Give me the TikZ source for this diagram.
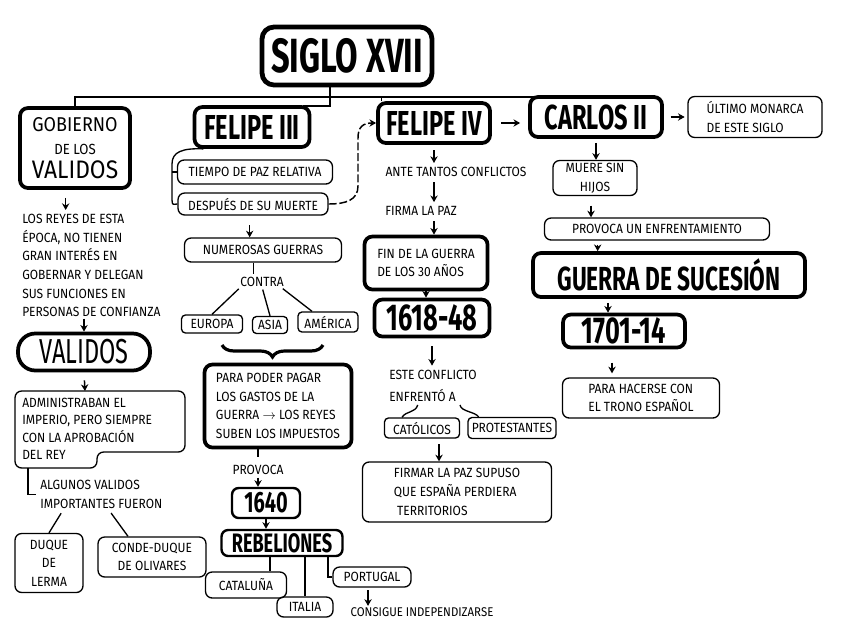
\documentclass[tikz,border=0pt]{standalone}
\usepackage{fontspec}
\setmainfont{Fira Sans}[FakeStretch=0.9]
\newfontfamily\headfont{Fira Sans}[FakeStretch=0.68]
\usetikzlibrary{arrows.meta,decorations.pathreplacing}
\tikzset{
  sz/.style 2 args={minimum width=#1*0.75pt, minimum height=#2*0.75pt},
  boxbase/.style={draw, inner sep=0pt, align=center},
  heavybox/.style={boxbase, line width=2.8pt, rounded corners=6pt},
  titlebox/.style={boxbase, line width=3.6pt, rounded corners=9pt},
  midbox/.style={boxbase, line width=1.8pt, rounded corners=5pt},
  lightbox/.style={boxbase, line width=1pt, rounded corners=5pt},
  smallbox/.style={boxbase, line width=1pt, rounded corners=3pt},
  txt/.style={inner sep=0pt, align=left, font=\fontsize{10}{14}\selectfont},
  body/.style={font=\fontsize{10}{14}\selectfont},
  head/.style={font=\headfont\bfseries\fontsize{#1}{#1}\selectfont},
  ln/.style={line width=1pt},
  arr/.style={line width=1.1pt, -{Stealth[length=5pt,width=5.5pt]}},
}
\begin{document}
\begin{tikzpicture}[x=0.75pt, y=-0.75pt]
\useasboundingbox (0,0) rectangle (848,643);

% ---------- title and top row
\node[titlebox, sz={170}{58}, head=36] (title) at (347,56) {SIGLO XVII};
\node[heavybox, sz={110}{80}, body] (gob) at (75,148)
  {{\fontsize{15}{17}\selectfont GOBIERNO}\\[3pt]{\fontsize{11}{14}\selectfont DE LOS}\\[4pt]{\fontsize{19}{20}\selectfont VALIDOS}};
\node[heavybox, sz={115}{40}, head=26] (f3) at (252,127) {FELIPE III};
\node[heavybox, sz={112}{40}, head=26] (f4) at (434,123) {FELIPE IV};
\node[heavybox, sz={132}{40}, head=26] (c2) at (596,117) {CARLOS II};
\node[lightbox, sz={134}{41}, body, align=left] (ultimo) at (755,117) {ÚLTIMO MONARCA\\DE ESTE SIGLO};

\coordinate (bus) at (330,97);
\draw[ln] (title.south -| bus) -- (bus);
\draw[ln] (gob.north) |- (bus) -| ([xshift=18pt]c2.north west);
\draw[ln] (bus) -- ++(0,9) -| ([xshift=-6pt]f3.north east);
\draw[ln] ([xshift=4pt]f4.north west) -- ([xshift=4pt]f4.north west |- bus);
\draw[arr, shorten <=7pt, shorten >=6pt] (f4.east) -- (f4.east -| c2.west);
\draw[arr, shorten <=5pt, shorten >=2pt] (c2.east) -- (ultimo.west);

% ---------- left column
\node[txt, anchor=north west] (reyes) at (22,214)
  {LOS REYES DE ESTA\\ÉPOCA, NO TIENEN\\GRAN INTERÉS EN\\GOBERNAR Y DELEGAN\\SUS FUNCIONES EN\\PERSONAS DE CONFIANZA};
\draw[arr, shorten <=6pt, shorten >=3pt] ([xshift=-7pt]gob.south) -- ([xshift=-7pt]gob.south |- reyes.north);
\node[heavybox, rounded corners=13pt, sz={132}{37}, font=\headfont\fontsize{26}{26}\selectfont] (validos) at (84,352) {VALIDOS};
\draw[arr, shorten <=1pt] (reyes.south -| validos.north) -- (validos.north);

\draw[line width=1pt, rounded corners=5pt] (15,391) -- (185,391) -- (185,452) -- (97,452) -- (97,468) -- (15,468) -- cycle;
\node[txt, anchor=north west, font=\fontsize{10}{13}\selectfont] (admin) at (22,398)
  {ADMINISTRABAN EL\\IMPERIO, PERO SIEMPRE\\CON LA APROBACIÓN\\DEL REY};
\coordinate (admintop) at (85,391);
\coordinate (adminbot) at (28,468);
\draw[arr, shorten <=6pt] (validos.south) -- (admintop);

\node[txt, anchor=north west] (algunos) at (40,480) {ALGUNOS VALIDOS\\IMPORTANTES FUERON};
\draw[ln] (adminbot) |- ([xshift=-3pt]algunos.west);
\node[lightbox, sz={68}{59}, body] (lerma) at (49,563) {DUQUE\\DE\\LERMA};
\node[lightbox, sz={108}{40}, body] (olivares) at (152,557) {CONDE-DUQUE\\DE OLIVARES};
\draw[ln, shorten <=4pt] ([xshift=-28pt]algunos.south) -- (lerma.north);
\draw[ln, shorten <=4pt] ([xshift=5pt]algunos.south) -- ([xshift=-18pt]olivares.north);

% ---------- Felipe III column
\node[lightbox, sz={155}{24}, body] (tiempo) at (255,172) {TIEMPO DE PAZ RELATIVA};
\node[lightbox, sz={150}{22}, body] (despues) at (253,204) {DESPUÉS DE SU MUERTE};
\coordinate (brk) at (172,172);
\draw[ln] ([xshift=8pt]f3.south west) .. controls (182,148) and (172,152) .. (172,164) -- (172,200)
  .. controls (172,206) and (174,204) .. (despues.west);
\draw[ln] (brk) -- (tiempo.west);
\draw[arr, dashed, dash pattern=on 6pt off 2pt] (despues.east) .. controls (346,204) and (358,200) .. (358,186)
  -- (358,138) .. controls (358,127) and (363,123) .. (f4.west);

\node[lightbox, sz={157}{24}, body] (numerosas) at (263,250) {NUMEROSAS GUERRAS};
\draw[arr, shorten <=7pt] ([xshift=-10pt]numerosas.north |- despues.south) -- ([xshift=-10pt]numerosas.north);
\node[txt] (contra) at (262,282) {CONTRA};
\draw[ln, shorten >=2pt] ([xshift=-7pt]numerosas.south) -- ([xshift=-7pt]numerosas.south |- contra.north);
\node[smallbox, sz={61}{18}, body] (europa) at (212,324) {EUROPA};
\node[smallbox, sz={35}{17}, body] (asia) at (270,325) {ASIA};
\node[smallbox, sz={60}{20}, body] (america) at (328,322) {AMÉRICA};
\draw[ln, shorten <=2pt] ([xshift=-16pt]contra.south) -- (europa.north);
\draw[ln, shorten <=2pt] ([xshift=0pt]contra.south) -- (asia.north);
\draw[ln, shorten <=2pt] ([xshift=14pt]contra.south) -- ([xshift=-12pt]america.north);

\coordinate (brL) at (222,345);
\coordinate (brR) at (323,345);
\draw[line width=2.4pt, decorate, decoration={brace, mirror, amplitude=9pt}] (brL) -- (brR);

\node[heavybox, sz={147}{83}, body, align=left] (pagar) at (278,406)
  {PARA PODER PAGAR\\LOS GASTOS DE LA\\GUERRA $\rightarrow$ LOS REYES\\SUBEN LOS IMPUESTOS};
\node[txt] (provoca) at (258,470) {PROVOCA};
\draw[ln, shorten >=6pt] (provoca.north |- pagar.south) -- (provoca.north);
\node[midbox, sz={68}{30}, head=22] (y1640) at (266,503) {1640};
\draw[arr, shorten <=2pt] (provoca.south) -- (provoca.south |- y1640.north);
\node[midbox, sz={121}{26}, head=20] (rebel) at (282,543) {REBELIONES};
\draw[arr] (y1640.south) -- (y1640.south |- rebel.north);
\node[lightbox, sz={81}{26}, body] (cat) at (246,585) {CATALUÑA};
\node[lightbox, sz={56}{20}, body] (italia) at (305,607) {ITALIA};
\node[lightbox, sz={78}{20}, body] (portugal) at (372,577) {PORTUGAL};
\draw[ln] ([xshift=-9pt]rebel.south) -- ([xshift=-9pt]rebel.south |- cat.north);
\draw[ln] (rebel.south -| italia.north) -- (italia.north);
\draw[ln] ([xshift=34.5pt]rebel.south) |- (portugal.west);
\node[txt, font=\fontsize{9.5}{12}\selectfont] (consigue) at (422,612) {CONSIGUE INDEPENDIZARSE};
\draw[arr, shorten <=2pt, shorten >=1pt] ([xshift=-3pt]portugal.south) -- ([xshift=-3pt]portugal.south |- consigue.north);

% ---------- Felipe IV column
\node[txt] (ante) at (456,172) {ANTE TANTOS CONFLICTOS};
\draw[arr, shorten <=4pt, shorten >=3pt] (f4.south) -- (f4.south |- ante.north);
\node[txt] (firma) at (421,211) {FIRMA LA PAZ};
\draw[arr, shorten <=4pt, shorten >=3pt] (f4.south |- ante.south) -- (f4.south |- firma.north);
\node[heavybox, sz={123}{53}, body, align=left] (fin) at (426,263) {FIN DE LA GUERRA\\DE LOS 30 AÑOS};
\draw[arr, shorten <=4pt] (f4.south |- firma.south) -- (f4.south |- fin.north);
\node[heavybox, sz={115}{37}, head=28] (y1618) at (432,318) {1618-48};
\draw[arr] (fin.south) -- (fin.south |- y1618.north);
\node[txt, font=\fontsize{10}{17}\selectfont] (conflicto) at (433,386) {ESTE CONFLICTO\\ENFRENTÓ A};
\draw[arr, shorten <=6pt, shorten >=3pt] (y1618.south) -- (y1618.south |- conflicto.north);
\node[smallbox, sz={75}{20}, body] (catolicos) at (422,428) {CATÓLICOS};
\node[smallbox, sz={88}{21}, body] (protest) at (512,428) {PROTESTANTES};
\draw[ln, shorten <=2pt] ([xshift=-11pt]conflicto.south) .. controls ([xshift=-13pt,yshift=-8pt]conflicto.south) and ([xshift=-12pt,yshift=5pt]catolicos.north) .. ([xshift=-15pt]catolicos.north);
\draw[ln, shorten <=2pt] ([xshift=20pt]conflicto.south) .. controls ([xshift=21pt,yshift=-7pt]conflicto.south) and ([xshift=-28pt,yshift=4pt]protest.north) .. ([xshift=-25pt]protest.north);
\node[lightbox, sz={189}{60}, body, align=left] (perdida) at (457,492)
  {FIRMAR LA PAZ SUPUSO\\QUE ESPAÑA PERDIERA\\\ TERRITORIOS};
\draw[arr, shorten <=4pt] ([xshift=12.75pt]catolicos.south) -- ([xshift=12.75pt]catolicos.south |- perdida.north);

% ---------- Carlos II column
\node[lightbox, sz={84}{35}, body] (muere) at (595,178) {MUERE SIN\\HIJOS};
\draw[arr, shorten <=3pt] (c2.south) -- (c2.south |- muere.north);
\node[lightbox, sz={225}{22}, body] (provoca2) at (657,229) {PROVOCA UN ENFRENTAMIENTO};
\draw[arr, shorten <=7pt] ([xshift=-3pt]muere.south) -- ([xshift=-3pt]muere.south |- provoca2.north);
\node[heavybox, sz={272}{44}, head=25] (guerra) at (669,275) {GUERRA DE SUCESIÓN};
\draw[arr, shorten <=3pt] ([xshift=2pt]muere.south |- provoca2.south) -- ([xshift=2pt]muere.south |- guerra.north);
\node[heavybox, sz={122}{33}, head=28] (y1701) at (624,331) {1701-14};
\draw[arr, shorten <=3pt] ([xshift=-12pt]y1701.north |- guerra.south) -- ([xshift=-12pt]y1701.north);
\node[lightbox, sz={157}{40}, body, align=left] (trono) at (641,398) {PARA HACERSE CON\\EL TRONO ESPAÑOL};
\draw[arr, shorten <=10pt, shorten >=3pt] ([xshift=-9pt]y1701.south) -- ([xshift=-9pt]y1701.south |- trono.north);

\end{tikzpicture}
\end{document}
